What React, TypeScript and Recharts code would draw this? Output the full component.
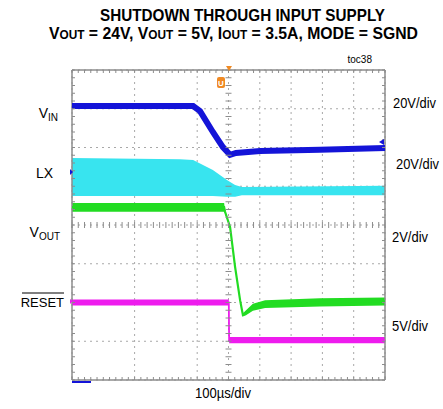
import { ComposedChart, Line, Area, Scatter, XAxis, YAxis, CartesianGrid, ReferenceLine } from 'recharts';

// time in µs (100µs/div), vertical position in screen divisions (8 div, centre = 0)
const timeTicks = [-500, -400, -300, -200, -100, 0, 100, 200, 300, 400, 500];
const divTicks = [-4, -3, -2, -1, 0, 1, 2, 3, 4];
const minorTime = Array.from({ length: 51 }, (_, i) => -500 + i * 20);
const minorDiv = Array.from({ length: 41 }, (_, i) => -4 + i * 0.2);

const vinTrace = [
  { t: -500, v: 3.07 },
  { t: -113, v: 3.07 },
  { t: -91, v: 2.94 },
  { t: -50, v: 2.4 },
  { t: -18, v: 2.01 },
  { t: 5, v: 1.81 },
  { t: 24, v: 1.86 },
  { t: 101, v: 1.91 },
  { t: 292, v: 1.94 },
  { t: 500, v: 1.99 },
];

const lxBand = [
  { t: -500, band: [0.75, 1.73] },
  { t: -155, band: [0.75, 1.7] },
  { t: -113, band: [0.75, 1.68] },
  { t: -50, band: [0.75, 1.42] },
  { t: -5, band: [0.73, 1.16] },
  { t: 21, band: [0.73, 1.03] },
  { t: 43, band: [0.77, 0.98] },
  { t: 500, band: [0.77, 1.01] },
];

const voutTrace = [
  { t: -500, v: 0.46, band: [0.34, 0.57] },
  { t: -14, v: 0.46, band: [0.34, 0.57] },
  { t: -11, v: 0.34, band: [0.3, 0.38] },
  { t: 5, v: -0.05, band: [-0.05, -0.05] },
  { t: 21, v: -1.08, band: [-1.08, -1.08] },
  { t: 37, v: -1.94, band: [-1.94, -1.94] },
  { t: 46, v: -2.32, band: [-2.36, -2.28] },
  { t: 56, v: -2.27, band: [-2.33, -2.2] },
  { t: 78, v: -2.12, band: [-2.21, -2.03] },
  { t: 117, v: -2.04, band: [-2.14, -1.94] },
  { t: 292, v: -1.99, band: [-2.1, -1.89] },
  { t: 500, v: -1.97, band: [-2.08, -1.87] },
];

const resetTrace = [
  { t: -500, v: -2.0, band: [-2.08, -1.92] },
  { t: 1, v: -2.0, band: [-2.08, -1.92] },
  { t: 2, v: -2.97, band: [-3.05, -2.89] },
  { t: 500, v: -2.97, band: [-3.05, -2.89] },
];

// minor graticule marks along the centre cross and the frame
const centreH = minorTime.map((t) => ({ t, v: 0 }));
const centreV = minorDiv.map((v) => ({ t: 0, v }));
const frameTop = minorTime.map((t) => ({ t, v: 4 }));
const frameBottom = minorTime.map((t) => ({ t, v: -4 }));
const frameLeft = minorDiv.map((v) => ({ t: -500, v }));
const frameRight = minorDiv.map((v) => ({ t: 500, v }));

const BLUE = '#1414d8';
const CYAN = '#38e4ef';
const GREEN = '#22dc22';
const MAGENTA = '#ee1cee';
const FRAME = '#8c8c8c';
const FONT = '"Liberation Sans", Arial, sans-serif';

const mark = (dx1: number, dx2: number, dy1: number, dy2: number) => (p: any) => (
  <line x1={p.cx + dx1} x2={p.cx + dx2} y1={p.cy + dy1} y2={p.cy + dy2} stroke={FRAME} strokeWidth={1} />
);

const ticks = [
  { data: centreH, shape: mark(0, 0, -3, 3) },
  { data: centreV, shape: mark(-3, 3, 0, 0) },
  { data: frameTop, shape: mark(0, 0, 0, 3) },
  { data: frameBottom, shape: mark(0, 0, -3, 0) },
  { data: frameLeft, shape: mark(0, 3, 0, 0) },
  { data: frameRight, shape: mark(-3, 0, 0, 0) },
];

export default function App() {
  return (
    <div style={{ position: 'absolute', left: 0, top: 0, width: 443, height: 409, background: '#fff', fontFamily: FONT }}>
      <ComposedChart width={443} height={409} margin={{ top: 70, right: 58, bottom: 29, left: 72 }}>
        <XAxis dataKey="t" type="number" domain={[-500, 500]} ticks={timeTicks} hide />
        <YAxis type="number" domain={[-4, 4]} ticks={divTicks} hide />
        <CartesianGrid stroke="#a8a8a8" strokeDasharray="2 4" />
        <ReferenceLine x={-500} stroke={FRAME} strokeWidth={1.5} />
        <ReferenceLine x={500} stroke={FRAME} strokeWidth={1.5} />
        <ReferenceLine y={4} stroke={FRAME} strokeWidth={1.5} />
        <ReferenceLine y={-4} stroke={FRAME} strokeWidth={1.5} />
        {ticks.map((tk, i) => (
          <Scatter key={i} data={tk.data} dataKey="v" shape={tk.shape} isAnimationActive={false} />
        ))}

        <Area data={lxBand} dataKey="band" type="linear" stroke="none" fill={CYAN} fillOpacity={1} dot={false} activeDot={false} isAnimationActive={false} />
        <Line data={vinTrace} dataKey="v" type="linear" stroke={BLUE} strokeWidth={6} dot={false} activeDot={false} isAnimationActive={false} />
        <Area data={voutTrace} dataKey="band" type="linear" stroke="none" fill={GREEN} fillOpacity={1} dot={false} activeDot={false} isAnimationActive={false} />
        <Line data={voutTrace} dataKey="v" type="linear" stroke={GREEN} strokeWidth={2.2} dot={false} activeDot={false} isAnimationActive={false} />
        <Area data={resetTrace} dataKey="band" type="linear" stroke="none" fill={MAGENTA} fillOpacity={1} dot={false} activeDot={false} isAnimationActive={false} />
        <Line data={resetTrace} dataKey="v" type="linear" stroke={MAGENTA} strokeWidth={1.8} dot={false} activeDot={false} isAnimationActive={false} />
      </ComposedChart>

      <svg width={443} height={409} style={{ position: 'absolute', left: 0, top: 0, pointerEvents: 'none' }} fontFamily={FONT}>
        <text x={100} y={20.5} fontSize={17} fontWeight={700} textLength={285} lengthAdjust="spacingAndGlyphs">SHUTDOWN THROUGH INPUT SUPPLY</text>
        <text x={49} y={38.5} fontSize={16} fontWeight={700} textLength={369} lengthAdjust="spacingAndGlyphs">
          V<tspan fontSize={12}>OUT</tspan> = 24V, V<tspan fontSize={12}>OUT</tspan> = 5V, I<tspan fontSize={12}>OUT</tspan> = 3.5A, MODE = SGND
        </text>
        <text x={372} y={63} fontSize={10} textAnchor="end">toc38</text>

        <text x={58} y={118} fontSize={14} textAnchor="end">V<tspan fontSize={10} dy={3}>IN</tspan></text>
        <text x={53} y={178} fontSize={14} textAnchor="end">LX</text>
        <text x={60} y={237} fontSize={14} textAnchor="end">V<tspan fontSize={10} dy={3}>OUT</tspan></text>
        <text x={64} y={307} fontSize={13} textAnchor="end">RESET</text>
        <line x1={22} x2={64} y1={293} y2={293} stroke="#000" strokeWidth={1} />

        <text x={393} y={108} fontSize={14} textLength={43} lengthAdjust="spacingAndGlyphs">20V/div</text>
        <text x={396} y={169} fontSize={14} textLength={43} lengthAdjust="spacingAndGlyphs">20V/div</text>
        <text x={392} y={242} fontSize={14} textLength={36} lengthAdjust="spacingAndGlyphs">2V/div</text>
        <text x={392} y={331} fontSize={14} textLength={36} lengthAdjust="spacingAndGlyphs">5V/div</text>
        <text x={195} y={398} fontSize={14} textLength={56} lengthAdjust="spacingAndGlyphs">100µs/div</text>

        <path d="M226,66 L232,66 L229,71 Z" fill="#f08a24" />
        <rect x={217} y={77} width={8} height={11} rx={2} fill="#f08a24" />
        <text x={221} y={86} fontSize={8} fontWeight={700} fill="#fff" textAnchor="middle">U</text>
        <path d="M379,142 L384,139 L384,145 Z" fill={BLUE} />
        <path d="M70,169 L73,172 L70,175 Z" fill={BLUE} />
        <path d="M70,299 L73,301 L70,304 Z" fill={MAGENTA} />
        <rect x={72} y={381} width={19} height={2} fill={BLUE} />
      </svg>
    </div>
  );
}
